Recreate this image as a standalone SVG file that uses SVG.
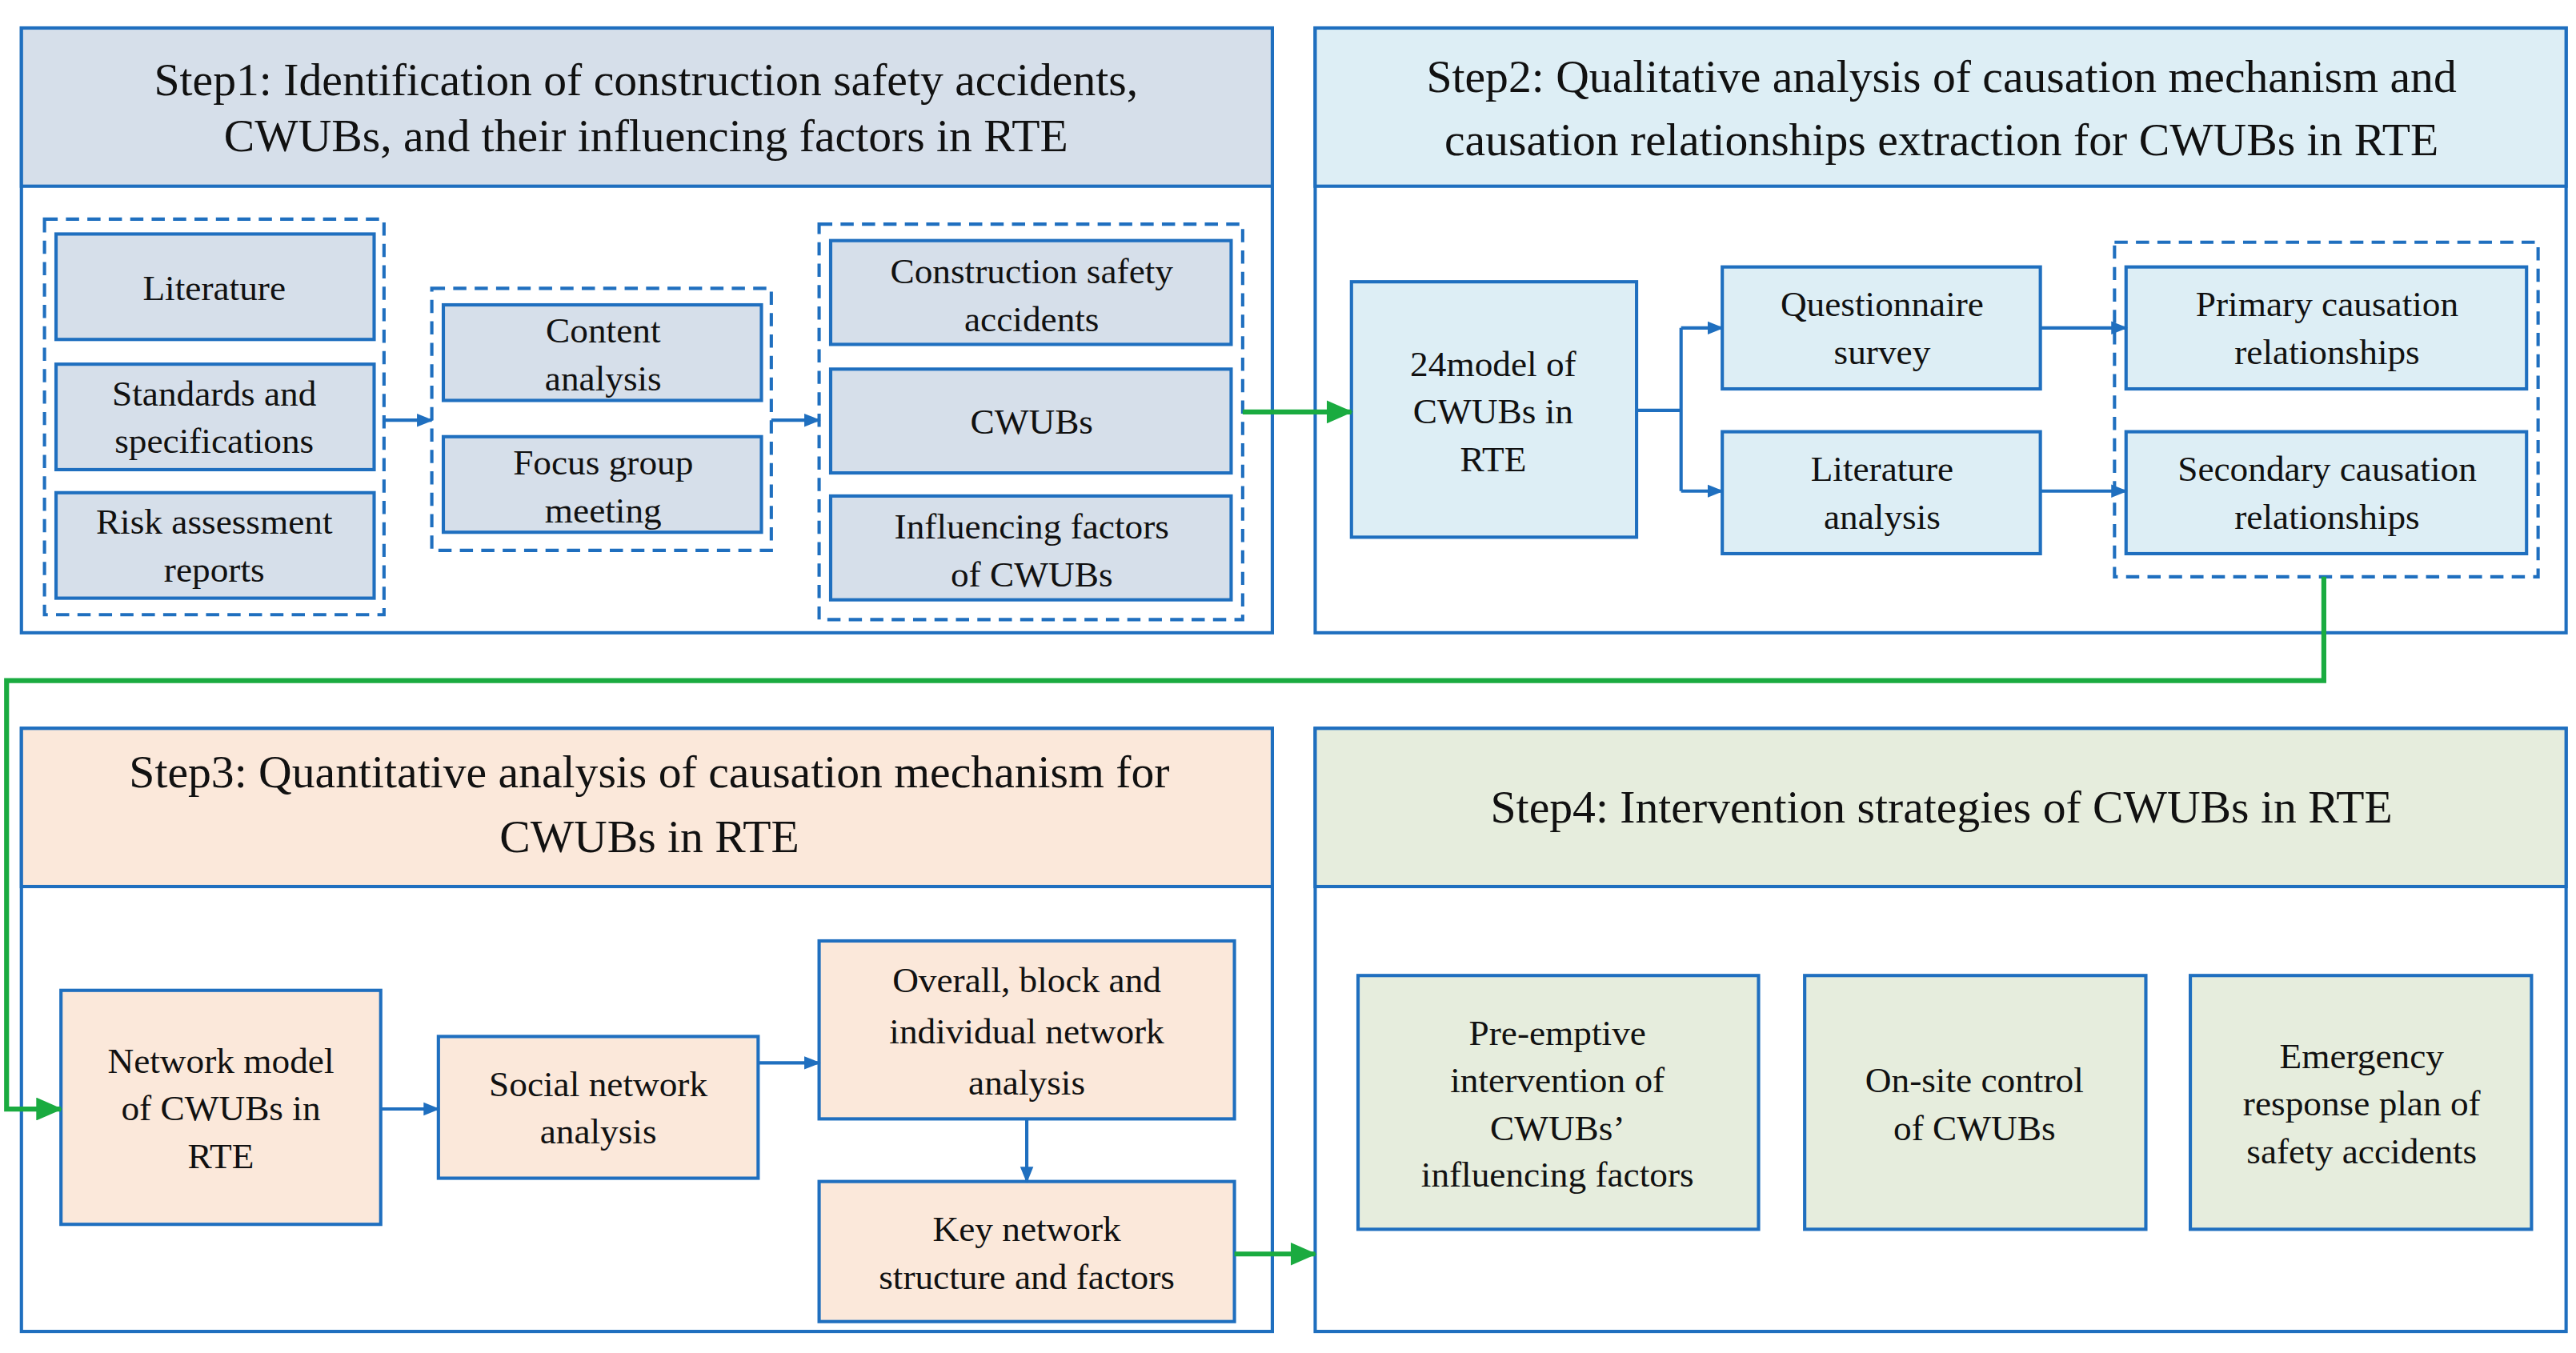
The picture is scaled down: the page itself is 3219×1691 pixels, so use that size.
<svg xmlns="http://www.w3.org/2000/svg" width="3219" height="1691" viewBox="0 0 3219 1691">
<defs>
<style>
.p{fill:#fff;stroke:#1f6fbf;stroke-width:2}
.n{stroke:#1f6fbf;stroke-width:2}
.d{fill:none;stroke:#1f6fbf;stroke-width:2;stroke-dasharray:8 5}
.c1{fill:#d6dfea}.c2{fill:#ddeef5}.c3{fill:#fbe8da}.c4{fill:#e6eddd}
text{font-family:"Liberation Serif","Times New Roman",serif;fill:#111;text-anchor:middle}
.t{font-size:22px}.h{font-size:28px}
.a{fill:none;stroke:#1f6fbf;stroke-width:2}
.g{fill:none;stroke:#1aab40;stroke-width:3}
</style>
<marker id="ab" markerWidth="10" markerHeight="10" refX="9" refY="5" orient="auto" markerUnits="userSpaceOnUse"><path d="M0,1 L10,5 L0,9 Z" fill="#1f6fbf"/></marker>
<marker id="ag" markerWidth="16" markerHeight="14" refX="15" refY="7" orient="auto" markerUnits="userSpaceOnUse"><path d="M0,0 L16,7 L0,14 Z" fill="#1aab40"/></marker>
</defs>
<rect width="3219" height="1691" fill="#fff"/>
<g transform="scale(2.0595)">
<g id="step1">
<rect class="p" x="13" y="17" width="759" height="367"/>
<rect class="n c1" x="13" y="17" width="759" height="96"/>
<text class="h" x="392" y="58">Step1: Identification of construction safety accidents,</text>
<text class="h" x="392" y="92">CWUBs, and their influencing factors in RTE</text>
<rect class="d" x="27" y="133" width="206" height="240"/>
<rect class="d" x="262" y="175" width="206" height="159"/>
<rect class="d" x="497" y="136" width="257" height="240"/>
</g>
<g id="literature"><rect class="n c1" x="34" y="142" width="193" height="64"/><text class="t" x="130" y="182">Literature</text></g>
<g id="standards"><rect class="n c1" x="34" y="221" width="193" height="64"/><text class="t" x="130" y="246">Standards and</text><text class="t" x="130" y="275">specifications</text></g>
<g id="risk"><rect class="n c1" x="34" y="299" width="193" height="64"/><text class="t" x="130" y="324">Risk assessment</text><text class="t" x="130" y="353">reports</text></g>
<g id="content"><rect class="n c1" x="269" y="185" width="193" height="58"/><text class="t" x="366" y="208">Content</text><text class="t" x="366" y="237">analysis</text></g>
<g id="focus"><rect class="n c1" x="269" y="265" width="193" height="58"/><text class="t" x="366" y="288">Focus group</text><text class="t" x="366" y="317">meeting</text></g>
<g id="accidents"><rect class="n c1" x="504" y="146" width="243" height="63"/><text class="t" x="626" y="172">Construction safety</text><text class="t" x="626" y="201">accidents</text></g>
<g id="cwubs"><rect class="n c1" x="504" y="224" width="243" height="63"/><text class="t" x="626" y="263">CWUBs</text></g>
<g id="influencing"><rect class="n c1" x="504" y="301" width="243" height="63"/><text class="t" x="626" y="327">Influencing factors</text><text class="t" x="626" y="356">of CWUBs</text></g>

<g id="step2">
<rect class="p" x="798" y="17" width="759" height="367"/>
<rect class="n c2" x="798" y="17" width="759" height="96"/>
<text class="h" x="1178" y="56">Step2: Qualitative analysis of causation mechanism and</text>
<text class="h" x="1178" y="94">causation relationships extraction for CWUBs in RTE</text>
<rect class="d" x="1283" y="147" width="257" height="203"/>
</g>
<g id="model24"><rect class="n c2" x="820" y="171" width="173" height="155"/><text class="t" x="906" y="228">24model of</text><text class="t" x="906" y="257">CWUBs in</text><text class="t" x="906" y="286">RTE</text></g>
<g id="questionnaire"><rect class="n c2" x="1045" y="162" width="193" height="74"/><text class="t" x="1142" y="192">Questionnaire</text><text class="t" x="1142" y="221">survey</text></g>
<g id="litanalysis"><rect class="n c2" x="1045" y="262" width="193" height="74"/><text class="t" x="1142" y="292">Literature</text><text class="t" x="1142" y="321">analysis</text></g>
<g id="primary"><rect class="n c2" x="1290" y="162" width="243" height="74"/><text class="t" x="1412" y="192">Primary causation</text><text class="t" x="1412" y="221">relationships</text></g>
<g id="secondary"><rect class="n c2" x="1290" y="262" width="243" height="74"/><text class="t" x="1412" y="292">Secondary causation</text><text class="t" x="1412" y="321">relationships</text></g>

<g id="step3">
<rect class="p" x="13" y="442" width="759" height="366"/>
<rect class="n c3" x="13" y="442" width="759" height="96"/>
<text class="h" x="394" y="478">Step3: Quantitative analysis of causation mechanism for</text>
<text class="h" x="394" y="517">CWUBs in RTE</text>
</g>
<g id="network"><rect class="n c3" x="37" y="601" width="194" height="142"/><text class="t" x="134" y="651">Network model</text><text class="t" x="134" y="680">of CWUBs in</text><text class="t" x="134" y="709">RTE</text></g>
<g id="sna"><rect class="n c3" x="266" y="629" width="194" height="86"/><text class="t" x="363" y="665">Social network</text><text class="t" x="363" y="694">analysis</text></g>
<g id="overall"><rect class="n c3" x="497" y="571" width="252" height="108"/><text class="t" x="623" y="602">Overall, block and</text><text class="t" x="623" y="633">individual network</text><text class="t" x="623" y="664">analysis</text></g>
<g id="key"><rect class="n c3" x="497" y="717" width="252" height="85"/><text class="t" x="623" y="753">Key network</text><text class="t" x="623" y="782">structure and factors</text></g>

<g id="step4">
<rect class="p" x="798" y="442" width="759" height="366"/>
<rect class="n c4" x="798" y="442" width="759" height="96"/>
<text class="h" x="1178" y="499">Step4: Intervention strategies of CWUBs in RTE</text>
</g>
<g id="preemptive"><rect class="n c4" x="824" y="592" width="243" height="154"/><text class="t" x="945" y="634">Pre-emptive</text><text class="t" x="945" y="663">intervention of</text><text class="t" x="945" y="692">CWUBs’</text><text class="t" x="945" y="720">influencing factors</text></g>
<g id="onsite"><rect class="n c4" x="1095" y="592" width="207" height="154"/><text class="t" x="1198" y="663">On-site control</text><text class="t" x="1198" y="692">of CWUBs</text></g>
<g id="emergency"><rect class="n c4" x="1329" y="592" width="207" height="154"/><text class="t" x="1433" y="648">Emergency</text><text class="t" x="1433" y="677">response plan of</text><text class="t" x="1433" y="706">safety accidents</text></g>

<g id="connectors">
<path class="a" d="M233,255 H262" marker-end="url(#ab)"/>
<path class="a" d="M468,255 H497" marker-end="url(#ab)"/>
<path class="g" d="M754,250 H820" marker-end="url(#ag)"/>
<path class="a" d="M993,249 H1020 M1020,199 V298"/>
<path class="a" d="M1020,199 H1045" marker-end="url(#ab)"/>
<path class="a" d="M1020,298 H1045" marker-end="url(#ab)"/>
<path class="a" d="M1238,199 H1290" marker-end="url(#ab)"/>
<path class="a" d="M1238,298 H1290" marker-end="url(#ab)"/>
<path class="g" d="M1410,350 V413 H4 V673 H37" marker-end="url(#ag)"/>
<path class="a" d="M231,673 H266" marker-end="url(#ab)"/>
<path class="a" d="M460,645 H497" marker-end="url(#ab)"/>
<path class="a" d="M623,679 V717" marker-end="url(#ab)"/>
<path class="g" d="M749,761 H798" marker-end="url(#ag)"/>
</g>
</g>
</svg>
